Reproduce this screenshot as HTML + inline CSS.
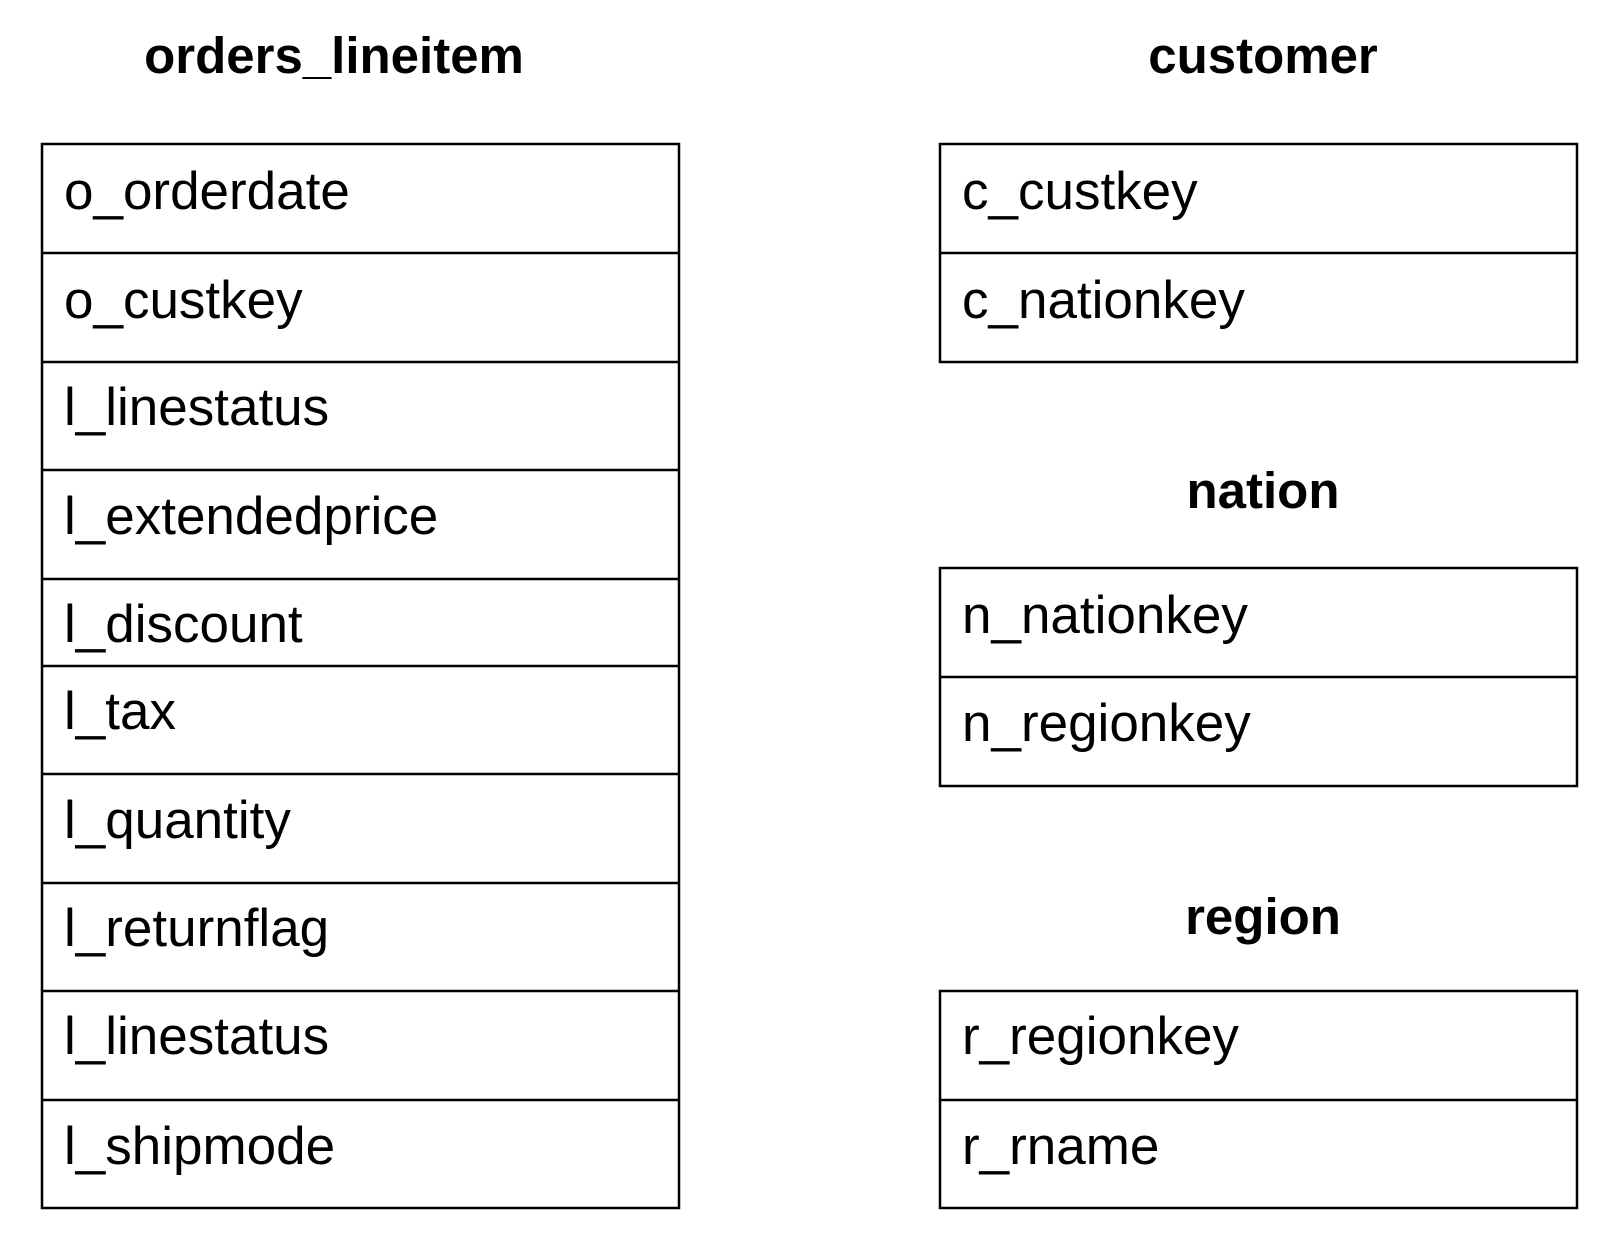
<!DOCTYPE html>
<html><head><style>html,body{margin:0;padding:0;background:#fff}svg{display:block}</style></head>
<body>
<svg width="1612" height="1242" xmlns="http://www.w3.org/2000/svg" font-family="Liberation Sans, sans-serif">
<g fill="none" stroke="#000" stroke-width="2.5">
<rect x="42" y="144" width="637" height="1064"/>
<path d="M42 253H679M42 362H679M42 470H679M42 579H679M42 666H679M42 774H679M42 883H679M42 991H679M42 1100H679"/>
<rect x="940" y="144" width="637" height="218"/>
<path d="M940 253H1577"/>
<rect x="940" y="568" width="637" height="218"/>
<path d="M940 677H1577"/>
<rect x="940" y="991" width="637" height="217"/>
<path d="M940 1100H1577"/>
</g>
<g font-weight="bold" font-size="51" text-anchor="middle">
<text x="334" y="73">orders_lineitem</text>
<text x="1263" y="73">customer</text>
<text x="1263" y="508">nation</text>
<text x="1263" y="934">region</text>
</g>
<g font-size="53">
<text x="64" y="209">o_orderdate</text>
<text x="64" y="318">o_custkey</text>
<text x="64" y="425">l_linestatus</text>
<text x="64" y="534">l_extendedprice</text>
<text x="64" y="642">l_discount</text>
<text x="64" y="729">l_tax</text>
<text x="64" y="838">l_quantity</text>
<text x="64" y="946">l_returnflag</text>
<text x="64" y="1054">l_linestatus</text>
<text x="64" y="1164">l_shipmode</text>
<text x="962" y="209">c_custkey</text>
<text x="962" y="318">c_nationkey</text>
<text x="962" y="633">n_nationkey</text>
<text x="962" y="741">n_regionkey</text>
<text x="962" y="1054">r_regionkey</text>
<text x="962" y="1164">r_rname</text>
</g>
</svg>
</body></html>
